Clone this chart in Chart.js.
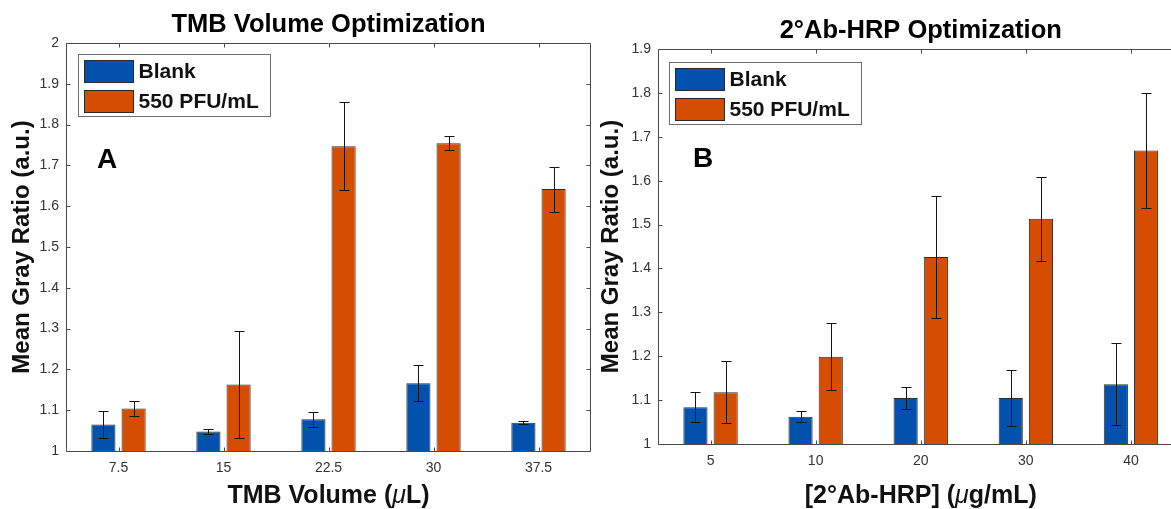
<!DOCTYPE html>
<html><head><meta charset="utf-8">
<script src="https://cdn.jsdelivr.net/npm/chart.js@4/dist/chart.umd.min.js"></script>
<style>
html,body{margin:0;padding:0;background:#fff;overflow:hidden;width:1171px;height:509px;}
#wrap{position:relative;width:1171px;height:509px;overflow:hidden;background:#fff;}
#cA{position:absolute;left:0;top:0;}
#cB{position:absolute;left:595px;top:0;}
</style></head><body>
<div id="wrap">
<canvas id="cA" width="596" height="509" style="width:596px;height:509px"></canvas>
<canvas id="cB" width="600" height="509" style="width:600px;height:509px"></canvas>
</div>
<script>
// ---------- data ----------
const seriesLabels = ['Blank', '550 PFU/mL'];

const catsA = ['7.5', '15', '22.5', '30', '37.5'];
const blankA = [1.065, 1.048, 1.078, 1.166, 1.069];
const blankErrA = [0.032, 0.007, 0.018, 0.044, 0.004];
const pfuA = [1.104, 1.163, 1.747, 1.754, 1.642];
const pfuErrA = [0.018, 0.130, 0.108, 0.017, 0.055];
const yTicksA = [1, 1.1, 1.2, 1.3, 1.4, 1.5, 1.6, 1.7, 1.8, 1.9, 2];
const yTickLabelsA = ['1', '1.1', '1.2', '1.3', '1.4', '1.5', '1.6', '1.7', '1.8', '1.9', '2'];

const catsB = ['5', '10', '20', '30', '40'];
const blankB = [1.084, 1.062, 1.105, 1.105, 1.136];
const blankErrB = [0.034, 0.013, 0.026, 0.063, 0.093];
const pfuB = [1.118, 1.199, 1.426, 1.513, 1.669];
const pfuErrB = [0.070, 0.077, 0.140, 0.096, 0.131];
const yTicksB = [1, 1.1, 1.2, 1.3, 1.4, 1.5, 1.6, 1.7, 1.8, 1.9];
const yTickLabelsB = ['1', '1.1', '1.2', '1.3', '1.4', '1.5', '1.6', '1.7', '1.8', '1.9'];

// ---------- style ----------
const FONT = "'Liberation Sans', Arial, Helvetica, sans-serif";
const BLUE = '#0252ad';
const ORANGE = '#d44d00';
const AXIS = '#4a4a4a';

// plugin: MATLAB-like box, inside ticks, error bars, legend, panel letter, x title with italic mu
const matlabPlugin = {
  id: 'matlab',
  afterDatasetsDraw(chart, args, o) {
    const ctx = chart.ctx;
    const { left, right, top, bottom } = chart.chartArea;
    const xs = chart.scales.x, ys = chart.scales.y;
    ctx.save();
    chart.data.datasets.forEach((ds, i) => {
      const meta = chart.getDatasetMeta(i);
      meta.data.forEach((bar, j) => {
        const v = ds.data[j], e = ds.errors[j];
        const yt = Math.round(ys.getPixelForValue(v + e)) + 0.5;
        const yb = Math.round(ys.getPixelForValue(v - e)) + 0.5;
        const cx = Math.round(bar.x) + 0.5;
        ctx.strokeStyle = '#151515';
        ctx.lineWidth = 1;
        ctx.beginPath();
        ctx.moveTo(cx, yt); ctx.lineTo(cx, yb);
        ctx.moveTo(cx - 5, yt); ctx.lineTo(cx + 5, yt);
        ctx.moveTo(cx - 5, yb); ctx.lineTo(cx + 5, yb);
        ctx.stroke();
      });
    });
    const L = Math.round(left) + 0.5, R = Math.round(right) - 0.5;
    const T = Math.round(top) + 0.5, B = Math.round(bottom) + 0.5;
    ctx.strokeStyle = AXIS;
    ctx.lineWidth = 1;
    ctx.beginPath();
    ctx.moveTo(R, T); ctx.lineTo(L, T); ctx.lineTo(L, B); ctx.lineTo(R, B);
    if (o.drawRight) { ctx.moveTo(R, T); ctx.lineTo(R, B); }
    ctx.stroke();
    const tl = 4;
    ctx.beginPath();
    xs.ticks.forEach((t, i) => {
      const px = Math.round(xs.getPixelForTick(i)) + 0.5;
      ctx.moveTo(px, B); ctx.lineTo(px, B - tl);
      ctx.moveTo(px, T); ctx.lineTo(px, T + tl);
    });
    ys.ticks.forEach((t) => {
      const py = Math.round(ys.getPixelForValue(t.value)) + 0.5;
      ctx.moveTo(L, py); ctx.lineTo(L + tl, py);
      if (o.drawRight) { ctx.moveTo(R, py); ctx.lineTo(R - tl, py); }
    });
    ctx.stroke();
    ctx.restore();
  },
  afterDraw(chart, args, o) {
    const ctx = chart.ctx;
    const { left, right, top } = chart.chartArea;
    ctx.save();
    const bx = Math.round(left + o.legendDx) + 0.5, by = Math.round(top + o.legendDy) + 0.5;
    ctx.fillStyle = '#fff';
    ctx.fillRect(bx, by, 192, 62);
    ctx.strokeStyle = '#6e6e6e';
    ctx.lineWidth = 1;
    ctx.strokeRect(bx, by, 192, 62);
    chart.data.datasets.forEach((ds, i) => {
      const sy = by + 6 + i * 30;
      ctx.fillStyle = ds.backgroundColor;
      ctx.fillRect(bx + 6, sy, 49, 22);
      ctx.strokeStyle = '#2a2a2a';
      ctx.strokeRect(bx + 6, sy, 49, 22);
      ctx.fillStyle = '#111';
      ctx.font = 'bold 21px ' + FONT;
      ctx.textBaseline = 'middle';
      ctx.textAlign = 'left';
      ctx.fillText(ds.label, bx + 60, sy + 12);
    });
    ctx.fillStyle = '#000';
    ctx.font = 'bold 28px ' + FONT;
    ctx.textBaseline = 'alphabetic';
    ctx.fillText(o.letter, left + o.letterDx, top + o.letterDy);
    const parts = o.xTitleParts;
    const fonts = parts.map(p => (p.italic ? 'italic ' : 'bold ') + '25px ' + FONT);
    let w = 0;
    parts.forEach((p, i) => { ctx.font = fonts[i]; w += ctx.measureText(p.t).width; });
    let x = (left + right) / 2 - w / 2;
    ctx.fillStyle = '#111';
    ctx.textBaseline = 'alphabetic';
    ctx.textAlign = 'left';
    parts.forEach((p, i) => {
      ctx.font = fonts[i];
      ctx.fillText(p.t, x, o.xTitleBaseline);
      x += ctx.measureText(p.t).width;
    });
    ctx.restore();
  }
};

function makeChart(id, cats, blank, blankErr, pfu, pfuErr, yTicks, yLabels, cfg) {
  return new Chart(document.getElementById(id), {
    type: 'bar',
    data: {
      labels: cats,
      datasets: [
        { label: seriesLabels[0], data: blank, errors: blankErr, backgroundColor: BLUE, borderColor: '#2e2e2e', borderWidth: 1 },
        { label: seriesLabels[1], data: pfu, errors: pfuErr, backgroundColor: ORANGE, borderColor: '#2e2e2e', borderWidth: 1 }
      ]
    },
    options: {
      responsive: false,
      animation: false,
      devicePixelRatio: 1,
      categoryPercentage: 0.575,
      barPercentage: 0.8,
      layout: { padding: { left: 0, right: cfg.padRight, top: 0, bottom: 0 } },
      plugins: {
        legend: { display: false },
        tooltip: { enabled: false },
        title: {
          display: true, text: cfg.title, color: '#000', fullSize: false,
          font: { family: FONT, size: 25.5, weight: 'bold', lineHeight: 1.2 },
          padding: { top: cfg.titlePadTop, bottom: cfg.titlePadBottom }
        },
        matlab: { letter: cfg.letter, letterDx: cfg.letterDx, letterDy: cfg.letterDy, legendDx: cfg.legendDx, legendDy: cfg.legendDy,
                  drawRight: cfg.drawRight, xTitleParts: cfg.xTitleParts, xTitleBaseline: 503 }
      },
      scales: {
        x: {
          grid: { display: false, drawTicks: false },
          border: { display: false },
          ticks: { color: '#333', font: { family: FONT, size: 14 }, padding: 9 },
          title: { display: false },
          afterFit: s => { s.height = cfg.xHeight; }
        },
        y: {
          min: yTicks[0], max: yTicks[yTicks.length - 1],
          grid: { display: false, drawTicks: false },
          border: { display: false },
          afterBuildTicks: s => { s.ticks = yTicks.map(v => ({ value: v })); },
          ticks: { color: '#333', font: { family: FONT, size: 14 }, padding: 7, callback: (v, i) => yLabels[i] },
          title: { display: true, text: 'Mean Gray Ratio (a.u.)', color: '#111', font: { family: FONT, size: 24, weight: 'bold', lineHeight: 1 }, padding: { top: cfg.yTitlePad, bottom: 0 } },
          afterFit: s => { s.width = cfg.yWidth; }
        }
      }
    },
    plugins: [matlabPlugin]
  });
}

makeChart('cA', catsA, blankA, blankErrA, pfuA, pfuErrA, yTicksA, yTickLabelsA, {
  title: 'TMB Volume Optimization',
  xTitleParts: [{ t: 'TMB Volume (' }, { t: '\u03BC', italic: true }, { t: 'L)' }],
  padRight: 5, titlePadTop: 9.4, titlePadBottom: 3, xHeight: 58, yWidth: 66, yTitlePad: 10,
  letter: 'A', letterDx: 31, letterDy: 125, legendDx: 12, legendDy: 11, drawRight: true
});
makeChart('cB', catsB, blankB, blankErrB, pfuB, pfuErrB, yTicksB, yTickLabelsB, {
  title: '2\u00B0Ab-HRP Optimization',
  xTitleParts: [{ t: '[2\u00B0Ab-HRP] (' }, { t: '\u03BC', italic: true }, { t: 'g/mL)' }],
  padRight: 11.5, titlePadTop: 16, titlePadBottom: 2.4, xHeight: 65, yWidth: 63, yTitlePad: 4,
  letter: 'B', letterDx: 35, letterDy: 118, legendDx: 11, legendDy: 13, drawRight: false
});
</script>
</body></html>
